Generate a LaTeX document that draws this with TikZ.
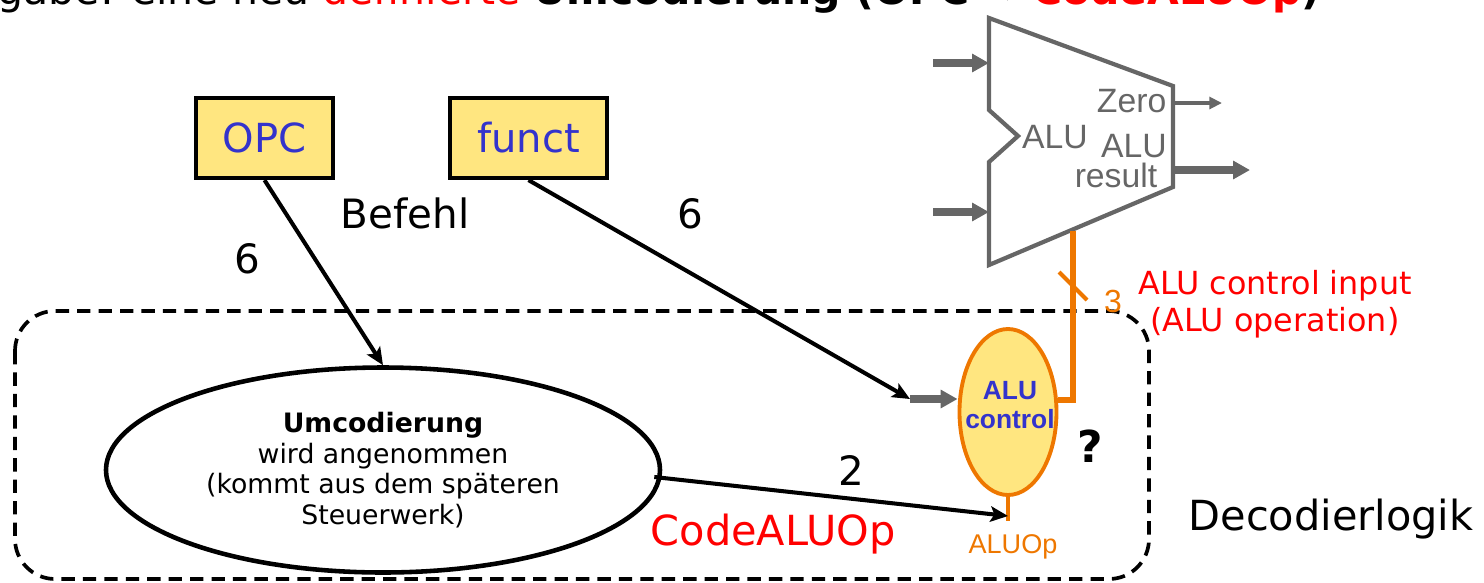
\documentclass[tikz,border=0pt]{standalone}
\usepackage{fontspec}
\setmainfont{DejaVu Sans}
\newfontfamily\arialfont{Liberation Sans}
\usetikzlibrary{shapes.geometric,arrows.meta}

\definecolor{boxyellow}{RGB}{255,230,128}
\definecolor{txtblue}{RGB}{51,51,204}
\definecolor{wireorange}{RGB}{238,119,0}
\definecolor{alugrey}{RGB}{102,102,102}
\newcommand\fsz[2]{\fontsize{#1pt}{#2pt}\selectfont}

\begin{document}
\begin{tikzpicture}[x=0.1mm, y=-0.1mm,
        sig/.style={line width=1.15pt, -{Stealth[length=5pt,width=4.4pt,inset=1.1pt]}},
        bus/.style={alugrey, line width=2pt, -{Triangle[length=4.8pt,width=5pt]}},
        wire/.style={wireorange, line width=1.7pt},
        reg/.style={draw, line width=1.2pt, fill=boxyellow, text=txtblue,
            minimum width=#1, minimum height=8mm, inner sep=0pt, font={\fsz{11.4}{13}}},
        lbl/.style={inner sep=0pt, font={\fsz{11.5}{14}}},
        alutext/.style={inner sep=0pt, text=alugrey, font={\arialfont\fsz{9.6}{11}}}]
    \useasboundingbox (0,0) rectangle (1484,582);

    % cut title line
    \node[anchor=base west, inner sep=0pt, font={\fsz{11.67}{14}}] (title) at (-3,4)
        {gabe: eine neu \textcolor{red}{definierte} \textbf{Umcodierung (OPC → }\textcolor{red}{\textbf{CodeALUOp}}\textbf{)}};

    % Decodierlogik
    \draw[line width=1.05pt, dash pattern=on 3.8pt off 2.3pt, rounded corners=4mm] (15,311) rectangle (1149,579);
    \node[lbl, anchor=base west, font={\fsz{11.8}{14}}] (deco) at (1188,530) {Decodierlogik};

    % Befehl
    \node[reg=13.7mm] (opc) at (264.5,138) {OPC};
    \node[reg=15.7mm] (funct) at (528.5,138) {funct};
    \node[lbl, anchor=base] (befehl) at (405,228) {Befehl};

    % ALU
    \draw[alugrey, line width=1.2pt] (989,18) -- (1173,86) -- (1173,187) -- (989,265)
        -- (989,162) -- (1018,136) -- (989,110) -- cycle;
    \foreach \y/\n in {63/a, 212/b} {
        \coordinate (src\n) at (933,\y);
        \coordinate (in\n) at (989,\y);
        \draw[bus] (src\n) -- (in\n);
    }
    \coordinate (zero) at (1173,103);
    \coordinate (zeroend) at (1222,103);
    \coordinate (res) at (1173,170);
    \coordinate (resend) at (1250,170);
    \coordinate (aluout) at (1073,231);
    \draw[alugrey, line width=0.95pt, -{Triangle[length=3.6pt,width=3.4pt]}] (zero) -- (zeroend);
    \draw[bus] (res) -- (resend);
    \node[alutext, anchor=base east] (zerolbl) at (1167,112) {Zero};
    \node[alutext, anchor=base] (alulbl) at (1055,148) {ALU};
    \node[alutext, anchor=base] (reslbl) at (1134,157) {ALU};
    \node[alutext, anchor=base] (reslbl2) at (1116,187) {result};

    % Umcodierung
    \node[ellipse, draw, line width=1.3pt, minimum width=55.4mm, minimum height=20.5mm,
        inner sep=0pt, align=center, font={\fsz{7.6}{8.7}}] (umcod) at (383,470)
        {\textbf{Umcodierung}\\wird angenommen\\(kommt aus dem späteren\\Steuerwerk)};

    % ALU control
    \node[ellipse, draw=wireorange, line width=1.1pt, fill=boxyellow, minimum width=9.7mm,
        minimum height=16.6mm, inner sep=0pt] (aluctrl) at (1008,412) {};
    \node[inner sep=0pt, align=center, text=txtblue, font={\arialfont\bfseries\fsz{7.5}{8.5}}]
        (ctrltxt) at (1010,405) {ALU\\control};
    \coordinate (ctrlin) at (910,399);
    \coordinate (aluopin) at (1008,516);
    \coordinate (tick) at (1073,286);
    \draw[wire] (aluctrl.13) -| (aluout);
    \draw[wireorange, line width=1.2pt] ([shift={(-14,-14)}]tick) -- ([shift={(14,14)}]tick);
    \draw[wireorange, line width=0.9pt] (aluctrl.south) -- ++(0,24);
    \draw[bus] (ctrlin) -- (aluctrl.west |- ctrlin);

    % connections
    \draw[sig] (opc.south) -- (umcod.north);
    \draw[sig] (funct.south) -- (ctrlin);
    \draw[sig] ([shift={(-8,7)}]umcod.east) -- (aluopin);

    % labels
    \node[lbl, anchor=base] (opcw) at (247,273) {6};
    \node[lbl, anchor=base] (functw) at (690,228) {6};
    \node[lbl, anchor=base] (codew) at (851,485) {2};
    \node[lbl, anchor=base west, text=red, font={\fsz{11.8}{14}}] (codealuop) at (650,545) {CodeALUOp};
    \node[inner sep=0pt, anchor=base, text=wireorange, font={\arialfont\fsz{7.7}{9}}] (aluoplbl) at (1013,553) {ALUOp};
    \node[inner sep=0pt, anchor=base, text=wireorange, font={\arialfont\fsz{9.1}{11}}] (buswidth) at (1113,312) {3};
    \node[inner sep=0pt, align=center, text=red, font={\fsz{9.05}{10.5}}] (ctrlinput) at (1275,304)
        {ALU control input\\(ALU operation)};
    \node[lbl, anchor=base, font={\bfseries\fsz{12.5}{15}}] (qmark) at (1090,462) {?};
\end{tikzpicture}
\end{document}
